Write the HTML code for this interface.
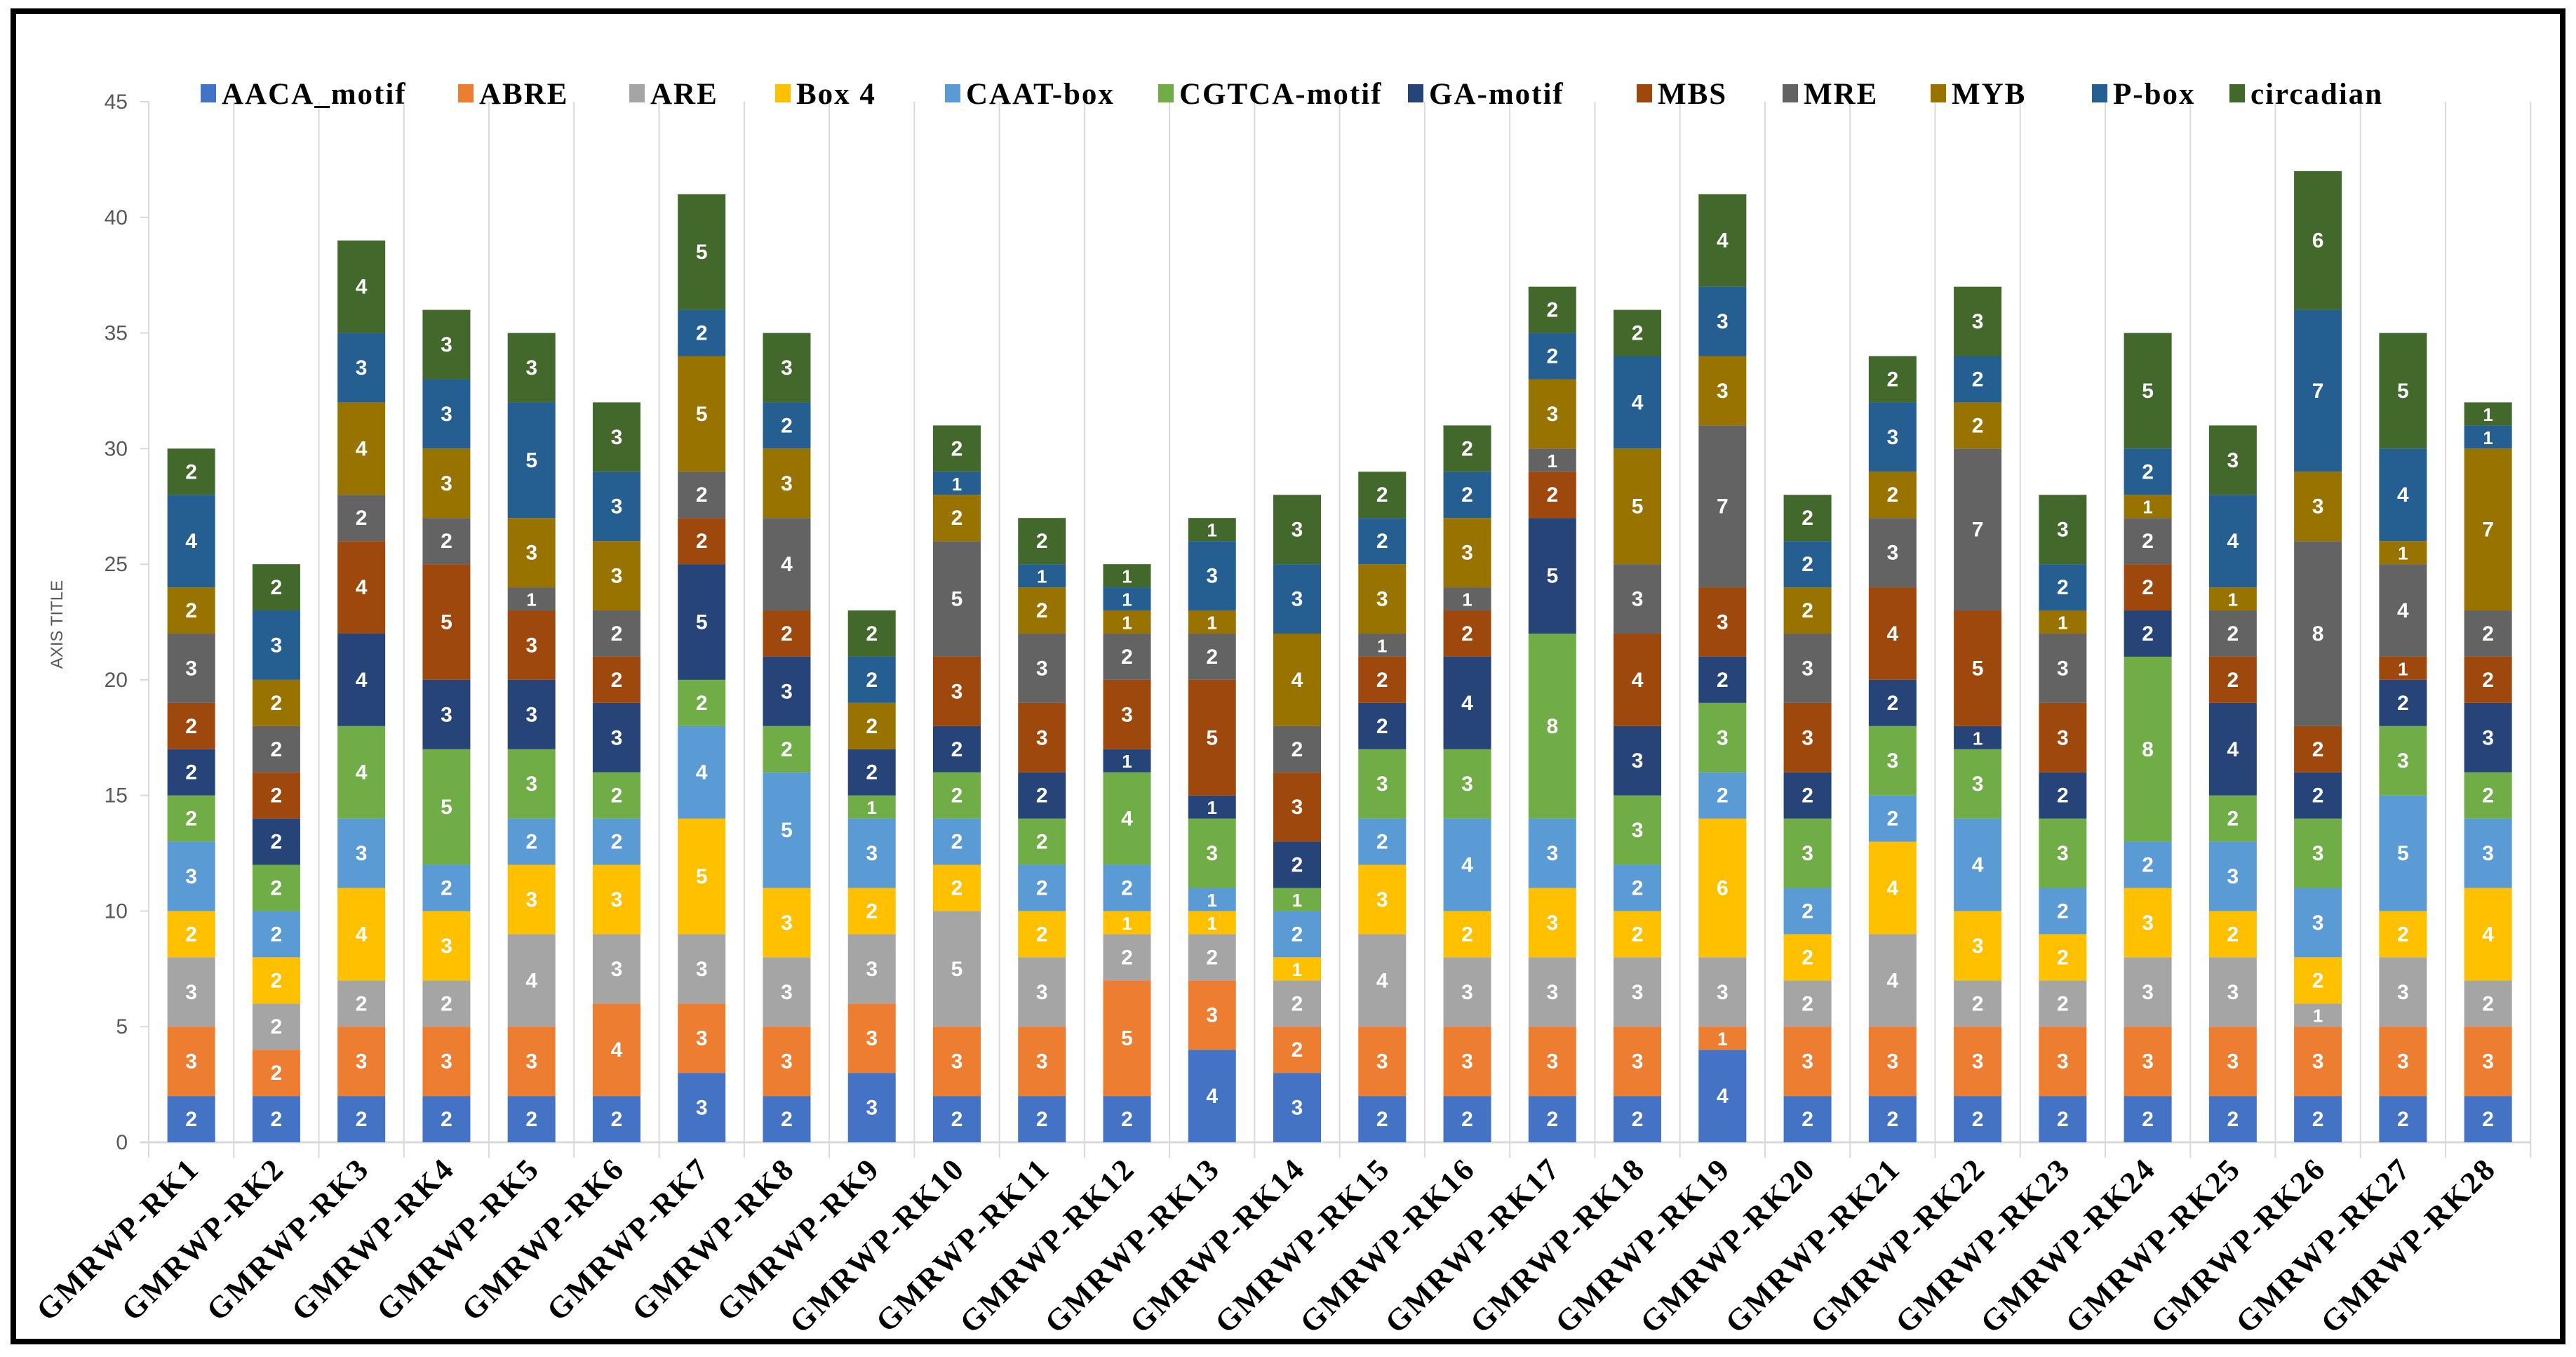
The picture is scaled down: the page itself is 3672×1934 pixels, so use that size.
<!DOCTYPE html>
<html><head><meta charset="utf-8">
<style>
html,body{margin:0;padding:0;background:#fff;}
svg{display:block;}
</style></head>
<body>
<svg id="chart" width="3672" height="1934" viewBox="0 0 3672 1934" xmlns="http://www.w3.org/2000/svg">
<rect x="0" y="0" width="3672" height="1934" fill="#fff"/>
<rect x="19" y="16" width="3634" height="1896" fill="none" stroke="#000" stroke-width="8"/>
<text x="89" y="890" transform="rotate(-90 89 890)" text-anchor="middle" font-family="Liberation Sans, sans-serif" font-size="24" fill="#595959">AXIS TITLE</text>
<g id="grid"></g><g id="bars"></g><g id="ticks"></g><g id="xlabels"></g><g id="legend"></g>
</svg>
<script>
const categories = ["GMRWP-RK1","GMRWP-RK2","GMRWP-RK3","GMRWP-RK4","GMRWP-RK5","GMRWP-RK6","GMRWP-RK7","GMRWP-RK8","GMRWP-RK9","GMRWP-RK10","GMRWP-RK11","GMRWP-RK12","GMRWP-RK13","GMRWP-RK14","GMRWP-RK15","GMRWP-RK16","GMRWP-RK17","GMRWP-RK18","GMRWP-RK19","GMRWP-RK20","GMRWP-RK21","GMRWP-RK22","GMRWP-RK23","GMRWP-RK24","GMRWP-RK25","GMRWP-RK26","GMRWP-RK27","GMRWP-RK28"];
const seriesNames = ["AACA_motif","ABRE","ARE","Box 4","CAAT-box","CGTCA-motif","GA-motif","MBS","MRE","MYB","P-box","circadian"];
const seriesColors = ["#4472C4","#ED7D31","#A5A5A5","#FFC000","#5B9BD5","#70AD47","#264478","#9E480E","#636363","#997300","#255E91","#43682B"];
const aacaMotif = [2,2,2,2,2,2,3,2,3,2,2,2,4,3,2,2,2,2,4,2,2,2,2,2,2,2,2,2];
const abre      = [3,2,3,3,3,4,3,3,3,3,3,5,3,2,3,3,3,3,1,3,3,3,3,3,3,3,3,3];
const are       = [3,2,2,2,4,3,3,3,3,5,3,2,2,2,4,3,3,3,3,2,4,2,2,3,3,1,3,2];
const box4      = [2,2,4,3,3,3,5,3,2,2,2,1,1,1,3,2,3,2,6,2,4,3,2,3,2,2,2,4];
const caatBox   = [3,2,3,2,2,2,4,5,3,2,2,2,1,2,2,4,3,2,2,2,2,4,2,2,3,3,5,3];
const cgtcaMotif= [2,2,4,5,3,2,2,2,1,2,2,4,3,1,3,3,8,3,3,3,3,3,3,8,2,3,3,2];
const gaMotif   = [2,2,4,3,3,3,5,3,2,2,2,1,1,2,2,4,5,3,2,2,2,1,2,2,4,2,2,3];
const mbs       = [2,2,4,5,3,2,2,2,0,3,3,3,5,3,2,2,2,4,3,3,4,5,3,2,2,2,1,2];
const mre       = [3,2,2,2,1,2,2,4,0,5,3,2,2,2,1,1,1,3,7,3,3,7,3,2,2,8,4,2];
const myb       = [2,2,4,3,3,3,5,3,2,2,2,1,1,4,3,3,3,5,3,2,2,2,1,1,1,3,1,7];
const pBox      = [4,3,3,3,5,3,2,2,2,1,1,1,3,3,2,2,2,4,3,2,3,2,2,2,4,7,4,1];
const circadian = [2,2,4,3,3,3,5,3,2,2,2,1,1,3,2,2,2,2,4,2,2,3,3,5,3,6,5,1];
const seriesValues = [aacaMotif,abre,are,box4,caatBox,cgtcaMotif,gaMotif,mbs,mre,myb,pBox,circadian];
const yTicks = [0,5,10,15,20,25,30,35,40,45];

const NS="http://www.w3.org/2000/svg";
const plotLeft=212, band=121.26, barW=68, y0=1628, yTop=145, yMax=45;
function yScale(v){return y0-(v/yMax)*(y0-yTop);}
function xCenter(i){return plotLeft+band*(i+0.5);}
function mk(tag,attrs,parent){const e=document.createElementNS(NS,tag);for(const k in attrs)e.setAttribute(k,attrs[k]);parent.appendChild(e);return e;}

const grid=document.getElementById('grid');
for(let i=0;i<=categories.length;i++){
  const x=plotLeft+band*i;
  const l=mk('line',{x1:x,x2:x,y1:yTop,y2:y0+22,stroke:'#d9d9d9','stroke-width':2},grid);
  
  
}
const ax=mk('line',{x1:plotLeft-12,x2:plotLeft+band*categories.length,y1:y0,y2:y0,stroke:'#d9d9d9','stroke-width':3},grid);



const ticks=document.getElementById('ticks');
yTicks.forEach(t=>{
  const y=yScale(t);
  const tl=mk('line',{x1:plotLeft-12,x2:plotLeft,y1:y,y2:y,stroke:'#d9d9d9','stroke-width':2},ticks);
  
  
  const tx=mk('text',{x:182,y:y+10,'text-anchor':'end','font-family':'Liberation Sans Narrow, Liberation Sans, sans-serif','font-size':30,fill:'#595959'},ticks);
  tx.textContent=t;
  
  
});

const bars=document.getElementById('bars');
categories.forEach((c,i)=>{
  let cum=0;
  const xc=xCenter(i);
  seriesValues.forEach((vals,s)=>{
    const v=vals[i];
    if(v<=0)return;
    const yt=yScale(cum+v), yb=yScale(cum);
    const r=mk('rect',{x:xc-barW/2,y:yt,width:barW,height:yb-yt,fill:seriesColors[s]},bars);
    
    
    const lbl=mk('text',{x:xc,y:(yt+yb)/2+10,'text-anchor':'middle','font-family':'Liberation Sans Narrow, Liberation Sans, sans-serif','font-size':v<=1?26:30,'font-weight':'bold',fill:'#fff'},bars);
    lbl.textContent=v;
    
    
    cum+=v;
  });
  const xl=document.getElementById('xlabels');
  const tx=xc+14, ty=1668;
  const t=mk('text',{x:tx,y:ty,'text-anchor':'end','letter-spacing':3,transform:`rotate(-45 ${tx} ${ty})`,'font-family':'Liberation Serif, serif','font-size':44,'font-weight':'bold',fill:'#000'},xl);
  t.textContent=c;
  
  
});

const legendX=[286,653,897,1105,1347,1651,2007,2333,2541,2752,2982,3178];
const lg=document.getElementById('legend');
seriesNames.forEach((n,s)=>{
  const g=mk('g',{},lg);
  
  
  mk('rect',{x:legendX[s],y:120,width:22,height:26,fill:seriesColors[s]},g);
  const t=mk('text',{x:legendX[s]+30,y:148,'letter-spacing':2,'font-family':'Liberation Serif, serif','font-size':43,'font-weight':'bold',fill:'#000'},g);
  t.textContent=n;
});
</script>
</body></html>
